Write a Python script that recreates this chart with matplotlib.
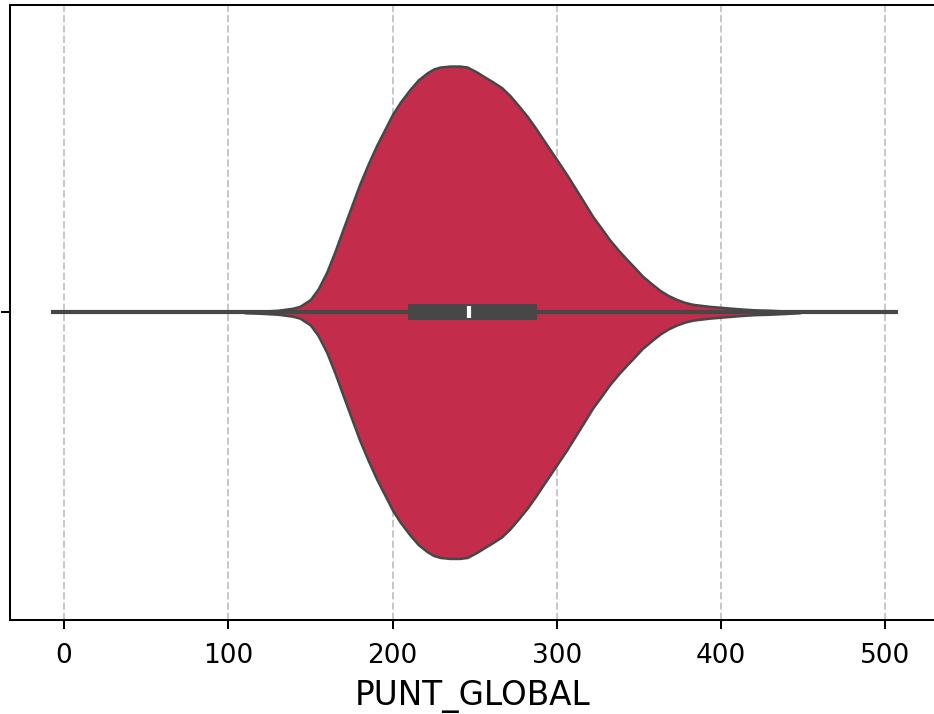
import numpy as np
import matplotlib
matplotlib.use("Agg")
from matplotlib import pyplot as plt

# violin outline (score vs. relative density)
score = [110, 119, 130, 139, 143.6, 150, 154.8, 160, 165, 170, 175.1, 180, 185.3, 190.5,
         200, 204.6, 210.5, 215.7, 221, 225, 229, 235, 241, 245.5, 251.2, 256, 261, 266.5,
         271.5, 276.6, 282, 286.7, 291.5, 300, 306, 312, 317.2, 322, 327.3, 332, 337.5,
         343, 347.6, 352, 357.7, 363, 367.9, 373, 378, 383, 388, 393, 400, 411, 420,
         430, 440, 448]
density = [0.5, 1, 2, 4, 6, 13, 24, 41, 62, 85, 108, 130, 151, 170,
           201, 213, 226, 236, 243, 247, 249, 250, 250, 249, 244, 239, 234, 228,
           220, 210, 199, 188, 176, 155, 140, 124, 110, 97, 85, 74, 63,
           53, 45, 37, 29, 22, 17, 13, 10, 8, 7, 6, 5, 3.5, 2.5,
           2, 1.2, 0.5]

# inner box stats
q1, med, q3 = 209.5, 246.5, 288
whis_lo, whis_hi = -8, 508
ticks = [0, 100, 200, 300, 400, 500]

fill = '#c32d4b'
dark = '#474747'

fig = plt.figure(figsize=(9.34, 7.14), dpi=100)
ax = fig.add_axes([9.5/934, (714-620)/714, (936-9.5)/934, (620-4.5)/714])

vp = dict(coords=np.array(score), vals=np.array(density, dtype=float),
          mean=med, median=med, min=min(score), max=max(score))
parts = ax.violin([vp], positions=[0], widths=[0.8], orientation='horizontal',
                  showmeans=False, showextrema=False, showmedians=False)
for b in parts['bodies']:
    b.set_facecolor(fill)
    b.set_edgecolor(dark)
    b.set_linewidth(1.8)
    b.set_alpha(1)
    b.set_zorder(2)
    b.set_joinstyle('round')

ax.hlines(0, whis_lo, whis_hi, color=dark, lw=3, zorder=3)
ax.hlines(0, q1, q3, color=dark, lw=11.5, zorder=4)
ax.vlines(med, -0.0095, 0.0095, color='white', lw=3, zorder=5)

ax.set_xlim(-33.2, 530.9)
ax.set_ylim(0.5, -0.5)
ax.set_xticks(ticks)
ax.set_yticks([0])
ax.set_yticklabels([''])
ax.grid(axis='x', linestyle='--', color='#b0b0b0', alpha=0.7, lw=1.4, zorder=0)
ax.set_axisbelow(True)
for s in ax.spines.values():
    s.set_linewidth(1.45)
ax.tick_params(labelsize=19, length=6.5, width=1.45, pad=10)
ax.set_xlabel('PUNT_GLOBAL', fontsize=23.5, labelpad=8)

plt.savefig('out.png', dpi=100)
